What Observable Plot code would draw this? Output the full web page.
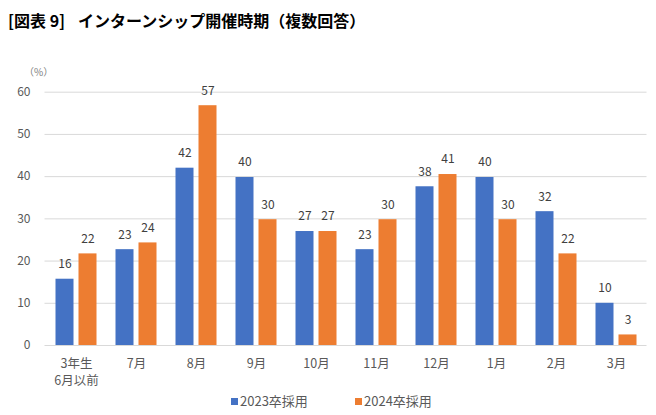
<!DOCTYPE html>
<html><head><meta charset="utf-8">
<script src="https://cdn.jsdelivr.net/npm/d3@7"></script>
<script src="https://cdn.jsdelivr.net/npm/@observablehq/plot@0.6"></script>
<style>
body{margin:0;background:#fff;font-family:"Noto Sans CJK JP",sans-serif;}
#wrap{position:relative;width:656px;height:415px;overflow:hidden;}
#title{height:40px;line-height:40px;padding-left:8px;font-size:16px;font-weight:bold;color:#000;white-space:nowrap;}
#title .fig{display:inline-block;width:70px;}
#unit{position:absolute;left:24px;top:64px;font-size:10px;color:#7f7f7f;}
.leg{position:absolute;top:392px;font-size:13px;line-height:18px;color:#595959;white-space:nowrap;}
.sw{display:inline-block;width:7px;height:7px;margin-right:2px;vertical-align:1px;}
#chart svg{display:block;}
</style></head>
<body>
<div id="wrap">
<div id="title"><span class="fig">[図表 9]</span>インターンシップ開催時期（複数回答）</div>
<div id="chart"></div>
<div id="unit">（%）</div>
<div class="leg" style="left:231px"><span class="sw" style="background:#4472C4"></span>2023卒採用</div>
<div class="leg" style="left:355px"><span class="sw" style="background:#ED7D31"></span>2024卒採用</div>
</div>
<script>
const months = ["3年生\n6月以前","7月","8月","9月","10月","11月","12月","1月","2月","3月"];
const series = ["2023卒採用","2024卒採用"];
const v2023 = [15.7, 22.7, 42.0, 39.8, 27.0, 22.7, 37.6, 39.8, 31.7, 10.0];
const v2024 = [21.7, 24.3, 56.8, 29.8, 27.0, 29.8, 40.5, 29.8, 21.7, 2.5];
const yTicks = [0, 10, 20, 30, 40, 50, 60];

const rows23 = months.map((m, i) => ({month: m, value: v2023[i]}));
const rows24 = months.map((m, i) => ({month: m, value: v2024[i]}));

const font = "Noto Sans CJK JP";
const chart = Plot.plot({
  width: 656, height: 345,
  marginTop: 51.7, marginBottom: 40, marginLeft: 44.5, marginRight: 9.5,
  x: {domain: months, padding: 0, axis: null},
  y: {domain: [0, 60], axis: null},
  style: {fontFamily: font, background: "transparent", overflow: "visible"},
  marks: [
    Plot.ruleY(yTicks, {stroke: "#d9d9d9", strokeWidth: 1}),
    Plot.barY(rows23, {x: "month", y: "value", fill: "#4472C4", insetLeft: 9.5, insetRight: 32.5}),
    Plot.barY(rows24, {x: "month", y: "value", fill: "#ED7D31", insetLeft: 32.5, insetRight: 9.5}),
    Plot.text(rows23, {x: "month", y: "value", text: d => Math.round(d.value), dx: -11.5, dy: -15, fontSize: 12, fill: "#404040"}),
    Plot.text(rows24, {x: "month", y: "value", text: d => Math.round(d.value), dx: 11.5, dy: -15, fontSize: 12, fill: "#404040"}),
    Plot.text(yTicks, {y: d => d, frameAnchor: "left", text: d => d, textAnchor: "end", dx: -14.5, fontSize: 12, fill: "#595959"}),
    Plot.text(months, {x: d => d, frameAnchor: "bottom", text: d => d, lineAnchor: "top", dy: 10, lineHeight: 1.4, fontSize: 12.5, fill: "#595959"})
  ]
});
document.getElementById("chart").appendChild(chart);
</script>
</body></html>
